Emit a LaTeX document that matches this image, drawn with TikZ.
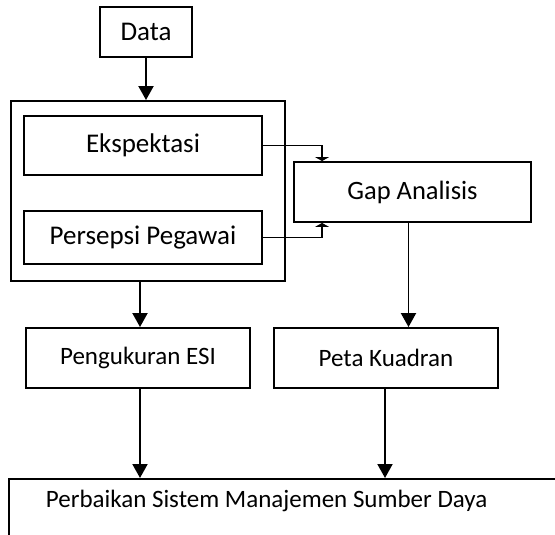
\documentclass[tikz,border=0pt]{standalone}
\usepackage{fontspec}
\setmainfont{Carlito}
\usetikzlibrary{calc}
\usetikzlibrary{arrows.meta}

\begin{document}
\begin{tikzpicture} [x=1pt,y=-1pt,line width=1.9pt,
 box/.style={draw, inner sep=0, font=\fontsize{27}{32}\selectfont},
 lowbox/.style={box, font=\fontsize{25}{30}\selectfont},
 arr/.style={-{Triangle[length=14pt,width=15pt]}},
 tip/.style={-{Triangle[length=4pt,width=14pt]}}]
\useasboundingbox (0,0) rectangle (555,535);
\clip (0,0) rectangle (555,535);
\node[box, minimum width=92pt, minimum height=50pt] (data) at (146,32) {Data};
\node[box, minimum width=274pt, minimum height=180pt] (survei) at (148,191) {};
\node[box, minimum width=238pt, minimum height=59pt] (ekspektasi) at (143,145.5) {Ekspektasi};
\node[box, minimum width=238pt, minimum height=53pt] (persepsi) at (143,237.5) {Persepsi Pegawai};
\node[box, minimum width=237pt, minimum height=60pt, font=\fontsize{26.5}{32}\selectfont] (gap) at (412.5,192) {Gap Analisis};
\node[lowbox, minimum width=224pt, minimum height=60pt] (esi) at (138,358) {Pengukuran ESI};
\node[lowbox, minimum width=224pt, minimum height=60pt] (kuadran) at (386,358) {Peta Kuadran};
\node[lowbox, anchor=north west, minimum width=600pt, minimum height=100pt] (perbaikan) at (8,478) {};
\node[lowbox, draw=none, anchor=base west] (perbaikantext) at ([xshift=37pt,yshift=-29pt]perbaikan.north west)
 {Perbaikan Sistem Manajemen Sumber Daya};

\draw[arr] (data.south) -- (data.south |- survei.north);
\draw[tip] (ekspektasi.east) -| ([xshift=29pt]gap.north west);
\draw[tip] (persepsi.east) -| ([xshift=29pt]gap.south west);
\draw[arr] ([xshift=2pt]esi.north |- survei.south) -- ([xshift=2pt]esi.north);
\draw[arr] ([xshift=-4pt]gap.south) -- ([xshift=-4pt]gap.south |- kuadran.north);
\draw[arr] ([xshift=2pt]esi.south) -- ([xshift=2pt]esi.south |- perbaikan.north);
\draw[arr] ([xshift=-1pt]kuadran.south) -- ([xshift=-1pt]kuadran.south |- perbaikan.north);
\end{tikzpicture}
\end{document}
